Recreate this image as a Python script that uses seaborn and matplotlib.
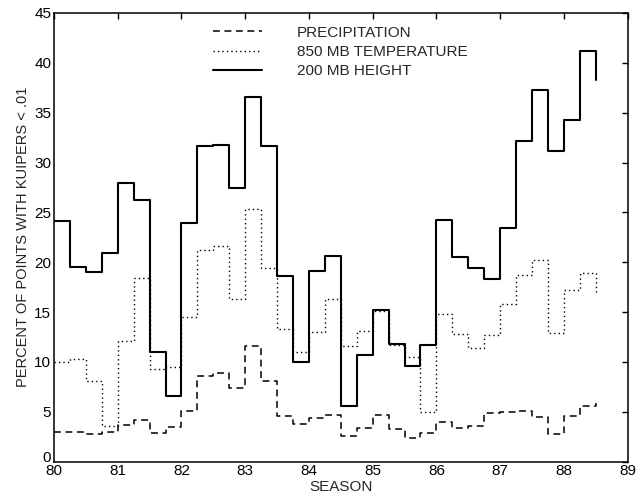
import matplotlib
matplotlib.use("Agg")
import matplotlib.pyplot as plt
import matplotlib.transforms as mtransforms
import seaborn as sns
import pandas as pd

# seasons, quarterly steps (drawn as stairs, last point closes the final step)
seasons = [80.0, 80.25, 80.5, 80.75, 81.0, 81.25, 81.5, 81.75,
           82.0, 82.25, 82.5, 82.75, 83.0, 83.25, 83.5, 83.75,
           84.0, 84.25, 84.5, 84.75, 85.0, 85.25, 85.5, 85.75,
           86.0, 86.25, 86.5, 86.75, 87.0, 87.25, 87.5, 87.75,
           88.0, 88.25, 88.5]

precipitation = [3.0, 3.0, 2.8, 3.0, 3.7, 4.2, 2.9, 3.5,
                 5.05, 8.6, 8.9, 7.4, 11.6, 8.1, 4.6, 3.8,
                 4.4, 4.7, 2.6, 3.4, 4.7, 3.3, 2.4, 2.9,
                 4.0, 3.35, 3.6, 4.85, 5.0, 5.05, 4.45, 2.8,
                 4.55, 5.55, 5.9]

temp_850 = [10.0, 10.3, 8.1, 3.6, 12.1, 18.4, 9.3, 9.5,
            14.5, 21.2, 21.6, 16.3, 25.3, 19.4, 13.3, 11.0,
            13.0, 16.3, 11.6, 13.1, 15.1, 11.7, 10.5, 5.0,
            14.8, 12.8, 11.4, 12.7, 15.8, 18.7, 20.2, 12.9,
            17.2, 18.9, 17.0]

height_200 = [24.1, 19.5, 19.0, 20.9, 27.9, 26.2, 11.0, 6.6,
              23.9, 31.7, 31.8, 27.4, 36.6, 31.7, 18.6, 10.0,
              19.1, 20.6, 5.6, 10.7, 15.2, 11.8, 9.6, 11.7,
              24.2, 20.5, 19.4, 18.3, 23.4, 32.2, 37.3, 31.2,
              34.3, 41.2, 38.3]

labels = ["PRECIPITATION", "850 MB TEMPERATURE", "200 MB HEIGHT"]

sns.set_style("white")
plt.rcParams['font.family'] = ['Liberation Sans', 'DejaVu Sans']
plt.rcParams['font.size'] = 11

df = pd.DataFrame({"season": seasons, "precip": precipitation,
                   "temp": temp_850, "height": height_200})

fig = plt.figure(figsize=(6.43, 4.98), dpi=100)
ax = fig.add_axes([0.084, 0.073, 0.892, 0.901])

sns.lineplot(data=df, x="season", y="precip", ax=ax, color="black",
             linestyle=(0, (4.5, 3)), linewidth=1.1, drawstyle="steps-post",
             label=labels[0], errorbar=None)
sns.lineplot(data=df, x="season", y="temp", ax=ax, color="black",
             linestyle=(0, (1, 2.2)), linewidth=1.0, drawstyle="steps-post",
             label=labels[1], errorbar=None)
sns.lineplot(data=df, x="season", y="height", ax=ax, color="black",
             linestyle="-", linewidth=1.5, drawstyle="steps-post",
             label=labels[2], errorbar=None)

ax.set_xlim(80, 89)
ax.set_ylim(0, 45)
ax.set_xticks(range(80, 90))
ax.set_yticks(range(0, 50, 5))
ax.tick_params(direction="in", length=4, width=1, top=True, right=True,
               labelsize=11, colors="black", pad=2)
for s in ax.spines.values():
    s.set_color("black")
    s.set_linewidth(1.1)

# lift the "0" a little, as in the original, so it sits above "80"
zero_lbl = ax.get_yticklabels()[0]
zero_lbl.set_transform(zero_lbl.get_transform()
                       + mtransforms.ScaledTranslation(0, 4 / 72, fig.dpi_scale_trans))

ax.set_xlabel("SEASON", fontsize=11, labelpad=1)
ax.set_ylabel("PERCENT OF POINTS WITH KUIPERS < .01", fontsize=10.5, labelpad=3)

ax.legend(loc="upper left", bbox_to_anchor=(0.277, 0.972), frameon=False,
          borderpad=0, borderaxespad=0, handlelength=3.2, handletextpad=2.3,
          labelspacing=0.35, fontsize=11)

plt.savefig("out.png", dpi=100)
